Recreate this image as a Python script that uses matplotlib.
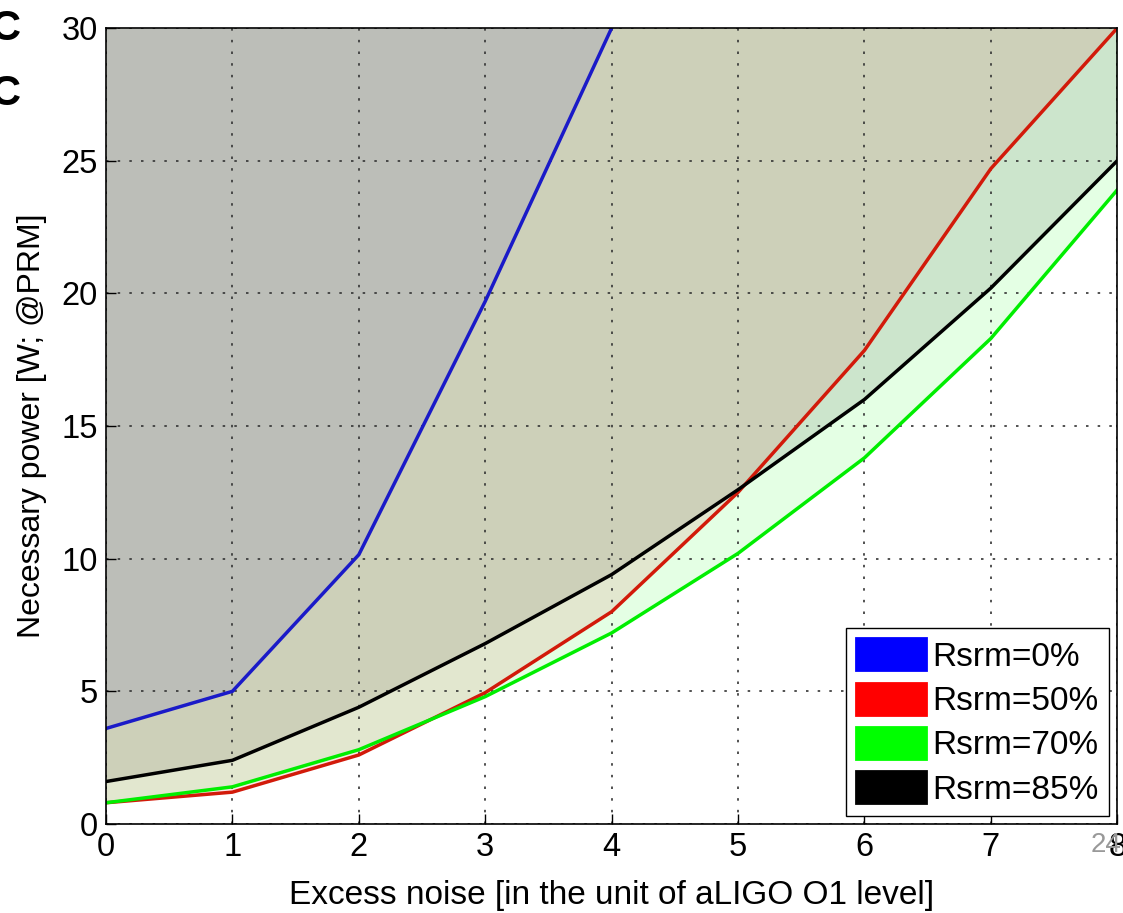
import matplotlib
matplotlib.use('Agg')
import matplotlib.pyplot as plt
from matplotlib.patches import Patch

plt.rcParams['font.family'] = ['Liberation Sans', 'DejaVu Sans']

# excess noise levels (in units of aLIGO O1)
noise = [0, 1, 2, 3, 4, 5, 6, 7, 8]
noise_blue = [0, 1, 2, 3, 4]

# necessary power [W]
p_rsrm0 = [3.6, 5.0, 10.15, 19.7, 30.0]
p_rsrm50 = [0.8, 1.2, 2.6, 4.95, 8.0, 12.5, 17.85, 24.7, 30.0]
p_rsrm70 = [0.8, 1.4, 2.8, 4.8, 7.2, 10.2, 13.8, 18.3, 23.9]
p_rsrm85 = [1.6, 2.4, 4.4, 6.8, 9.4, 12.6, 16.0, 20.2, 25.0]

labels = ['Rsrm=0%', 'Rsrm=50%', 'Rsrm=70%', 'Rsrm=85%']
colors = ['#0000ff', '#ff0000', '#00ff00', '#000000']
line_colors = ['#1a1ac8', '#d21a0a', '#00ee00', '#000000']
# tints used for the transparent shading above each curve
fill_colors = ['#2e26b1', '#d71c19', '#00ff00', '#000000']

fig = plt.figure(figsize=(11.23, 9.13), dpi=100)
ax = fig.add_axes([0.0944, 0.0975, 0.9005, 0.8718])

ymax = 30
# shaded region above each curve
ax.fill_between(noise, p_rsrm70, ymax, color=fill_colors[2], alpha=0.105, lw=0)
ax.fill_between(noise, p_rsrm85, ymax, color=fill_colors[3], alpha=0.1, lw=0)
ax.fill_between(noise, p_rsrm50, ymax, color=fill_colors[1], alpha=0.1, lw=0)
ax.fill_between(noise_blue, p_rsrm0, ymax, color=fill_colors[0], alpha=0.1, lw=0)

ax.plot(noise_blue, p_rsrm0, color=line_colors[0], lw=2.5)
ax.plot(noise, p_rsrm50, color=line_colors[1], lw=2.5)
ax.plot(noise, p_rsrm70, color=line_colors[2], lw=2.5)
ax.plot(noise, p_rsrm85, color=line_colors[3], lw=2.5)

ax.set_xlim(0, 8)
ax.set_ylim(0, ymax)
ax.set_xticks(range(0, 9))
ax.set_yticks(range(0, 31, 5))
ax.grid(True, color='#333333', linestyle=(0, (1.5, 5.5)), linewidth=1.2)
ax.tick_params(direction='in', length=7, width=1, labelsize=23.5, top=False, right=False, pad=6)
for s in ax.spines.values():
    s.set_linewidth(1.2)

ax.set_xlabel('Excess noise [in the unit of aLIGO O1 level]', fontsize=24, labelpad=12)
ax.set_ylabel('Necessary power [W; @PRM]', fontsize=23, labelpad=10)

handles = [Patch(facecolor=c, edgecolor=c, joinstyle='round', linewidth=2) for c in colors]
leg = ax.legend(handles, labels, loc='lower right', fontsize=24, frameon=True, fancybox=False,
                edgecolor='black', framealpha=1, handlelength=2.1, handleheight=1.1,
                handletextpad=0.2, labelspacing=0.3, borderpad=0.3, borderaxespad=0.25)
leg.get_frame().set_linewidth(1.0)

# slide artifacts
fig.text(0.005, 0.968, 'C', fontsize=30, fontweight='bold', ha='center', va='center')
fig.text(0.005, 0.897, 'C', fontsize=30, fontweight='bold', ha='center', va='center')
fig.text(0.985, 0.074, '24', fontsize=20, color='#999999', ha='center', va='center')

fig.savefig('out.png', dpi=100)
